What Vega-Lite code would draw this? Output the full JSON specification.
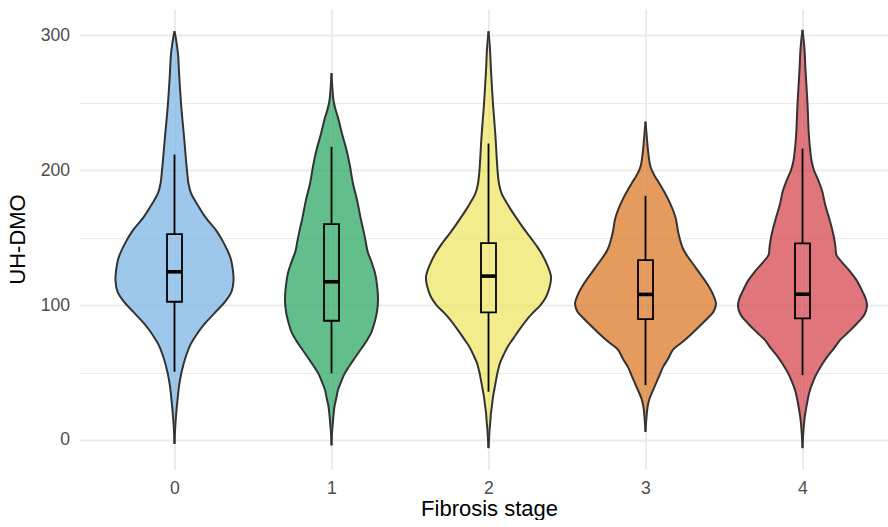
{
  "$schema": "https://vega.github.io/schema/vega-lite/v6.json",
  "background": "white",
  "padding": {"left": 5.5, "top": 9, "right": 0, "bottom": 0},
  "config": {
    "view": {"stroke": null},
    "font": "Liberation Sans",
    "area": {"interpolate": "catmull-rom"},
    "line": {"interpolate": "catmull-rom"},
    "axisY": {"ticks": false, "domain": false, "gridColor": "#EBEBEB", "labelFont": "Liberation Sans", "labelFontSize": 17.6, "labelColor": "#4D4D4D", "labelPadding": 10, "titleFont": "Liberation Sans", "titleFontSize": 22, "titleFontWeight": "normal", "titleColor": "black", "titlePadding": 11},
    "axisX": {"ticks": false, "domain": false, "labels": false, "grid": false, "gridColor": "#EBEBEB", "gridWidth": 2, "labelFont": "Liberation Sans", "labelFontSize": 17.6, "labelColor": "#4D4D4D", "labelPadding": 10}
  },
  "title": {"text": "Fibrosis stage", "orient": "bottom", "anchor": "middle", "dx": 42.75, "offset": 2, "font": "Liberation Sans", "fontSize": 22, "fontWeight": "normal", "color": "black"},
  "data": {"values": [
    {"kind":"v","stage":0,"value":-3,"density":0},
    {"kind":"v","stage":0,"value":10,"density":0.011},
    {"kind":"v","stage":0,"value":20,"density":0.025},
    {"kind":"v","stage":0,"value":30,"density":0.043},
    {"kind":"v","stage":0,"value":40,"density":0.064},
    {"kind":"v","stage":0,"value":50,"density":0.099},
    {"kind":"v","stage":0,"value":60,"density":0.149},
    {"kind":"v","stage":0,"value":70,"density":0.220},
    {"kind":"v","stage":0,"value":78,"density":0.312},
    {"kind":"v","stage":0,"value":86,"density":0.426},
    {"kind":"v","stage":0,"value":94,"density":0.567},
    {"kind":"v","stage":0,"value":102,"density":0.709},
    {"kind":"v","stage":0,"value":110,"density":0.809},
    {"kind":"v","stage":0,"value":118,"density":0.837},
    {"kind":"v","stage":0,"value":125,"density":0.830},
    {"kind":"v","stage":0,"value":135,"density":0.794},
    {"kind":"v","stage":0,"value":145,"density":0.709},
    {"kind":"v","stage":0,"value":155,"density":0.596},
    {"kind":"v","stage":0,"value":165,"density":0.440},
    {"kind":"v","stage":0,"value":175,"density":0.319},
    {"kind":"v","stage":0,"value":183,"density":0.234},
    {"kind":"v","stage":0,"value":190,"density":0.199},
    {"kind":"v","stage":0,"value":200,"density":0.177},
    {"kind":"v","stage":0,"value":212,"density":0.156},
    {"kind":"v","stage":0,"value":225,"density":0.135},
    {"kind":"v","stage":0,"value":237,"density":0.113},
    {"kind":"v","stage":0,"value":250,"density":0.092},
    {"kind":"v","stage":0,"value":270,"density":0.067},
    {"kind":"v","stage":0,"value":286,"density":0.050},
    {"kind":"v","stage":0,"value":295,"density":0.028},
    {"kind":"v","stage":0,"value":303,"density":0},

    {"kind":"v","stage":1,"value":-4,"density":0},
    {"kind":"v","stage":1,"value":5,"density":0.007},
    {"kind":"v","stage":1,"value":12,"density":0.018},
    {"kind":"v","stage":1,"value":18,"density":0.028},
    {"kind":"v","stage":1,"value":25,"density":0.043},
    {"kind":"v","stage":1,"value":30,"density":0.064},
    {"kind":"v","stage":1,"value":37,"density":0.092},
    {"kind":"v","stage":1,"value":43,"density":0.135},
    {"kind":"v","stage":1,"value":49,"density":0.184},
    {"kind":"v","stage":1,"value":55,"density":0.255},
    {"kind":"v","stage":1,"value":61,"density":0.333},
    {"kind":"v","stage":1,"value":68,"density":0.426},
    {"kind":"v","stage":1,"value":74,"density":0.504},
    {"kind":"v","stage":1,"value":80,"density":0.567},
    {"kind":"v","stage":1,"value":87,"density":0.610},
    {"kind":"v","stage":1,"value":95,"density":0.645},
    {"kind":"v","stage":1,"value":104,"density":0.660},
    {"kind":"v","stage":1,"value":115,"density":0.645},
    {"kind":"v","stage":1,"value":124,"density":0.617},
    {"kind":"v","stage":1,"value":132,"density":0.567},
    {"kind":"v","stage":1,"value":140,"density":0.511},
    {"kind":"v","stage":1,"value":148,"density":0.482},
    {"kind":"v","stage":1,"value":155,"density":0.454},
    {"kind":"v","stage":1,"value":165,"density":0.411},
    {"kind":"v","stage":1,"value":178,"density":0.362},
    {"kind":"v","stage":1,"value":190,"density":0.305},
    {"kind":"v","stage":1,"value":203,"density":0.262},
    {"kind":"v","stage":1,"value":215,"density":0.213},
    {"kind":"v","stage":1,"value":227,"density":0.149},
    {"kind":"v","stage":1,"value":239,"density":0.092},
    {"kind":"v","stage":1,"value":245,"density":0.057},
    {"kind":"v","stage":1,"value":252,"density":0.028},
    {"kind":"v","stage":1,"value":262,"density":0.011},
    {"kind":"v","stage":1,"value":272,"density":0},

    {"kind":"v","stage":2,"value":-6,"density":0},
    {"kind":"v","stage":2,"value":0,"density":0.007},
    {"kind":"v","stage":2,"value":7,"density":0.014},
    {"kind":"v","stage":2,"value":13,"density":0.025},
    {"kind":"v","stage":2,"value":20,"density":0.035},
    {"kind":"v","stage":2,"value":26,"density":0.050},
    {"kind":"v","stage":2,"value":32,"density":0.064},
    {"kind":"v","stage":2,"value":38,"density":0.085},
    {"kind":"v","stage":2,"value":44,"density":0.106},
    {"kind":"v","stage":2,"value":50,"density":0.128},
    {"kind":"v","stage":2,"value":57,"density":0.163},
    {"kind":"v","stage":2,"value":63,"density":0.213},
    {"kind":"v","stage":2,"value":69,"density":0.270},
    {"kind":"v","stage":2,"value":75,"density":0.348},
    {"kind":"v","stage":2,"value":81.5,"density":0.433},
    {"kind":"v","stage":2,"value":88,"density":0.525},
    {"kind":"v","stage":2,"value":94,"density":0.624},
    {"kind":"v","stage":2,"value":100,"density":0.738},
    {"kind":"v","stage":2,"value":106,"density":0.816},
    {"kind":"v","stage":2,"value":113,"density":0.865},
    {"kind":"v","stage":2,"value":121,"density":0.887},
    {"kind":"v","stage":2,"value":131,"density":0.823},
    {"kind":"v","stage":2,"value":137,"density":0.766},
    {"kind":"v","stage":2,"value":143,"density":0.695},
    {"kind":"v","stage":2,"value":150,"density":0.596},
    {"kind":"v","stage":2,"value":158,"density":0.482},
    {"kind":"v","stage":2,"value":165,"density":0.390},
    {"kind":"v","stage":2,"value":173,"density":0.291},
    {"kind":"v","stage":2,"value":183,"density":0.184},
    {"kind":"v","stage":2,"value":190,"density":0.149},
    {"kind":"v","stage":2,"value":200,"density":0.128},
    {"kind":"v","stage":2,"value":225,"density":0.099},
    {"kind":"v","stage":2,"value":249,"density":0.064},
    {"kind":"v","stage":2,"value":274,"density":0.035},
    {"kind":"v","stage":2,"value":290,"density":0.021},
    {"kind":"v","stage":2,"value":303,"density":0},

    {"kind":"v","stage":3,"value":6,"density":0},
    {"kind":"v","stage":3,"value":17,"density":0.014},
    {"kind":"v","stage":3,"value":24,"density":0.028},
    {"kind":"v","stage":3,"value":30,"density":0.053},
    {"kind":"v","stage":3,"value":36,"density":0.099},
    {"kind":"v","stage":3,"value":42,"density":0.149},
    {"kind":"v","stage":3,"value":48,"density":0.199},
    {"kind":"v","stage":3,"value":54,"density":0.248},
    {"kind":"v","stage":3,"value":60,"density":0.319},
    {"kind":"v","stage":3,"value":67,"density":0.390},
    {"kind":"v","stage":3,"value":73,"density":0.532},
    {"kind":"v","stage":3,"value":79,"density":0.660},
    {"kind":"v","stage":3,"value":85,"density":0.780},
    {"kind":"v","stage":3,"value":91,"density":0.894},
    {"kind":"v","stage":3,"value":95,"density":0.965},
    {"kind":"v","stage":3,"value":101,"density":1.0},
    {"kind":"v","stage":3,"value":108,"density":0.957},
    {"kind":"v","stage":3,"value":116,"density":0.872},
    {"kind":"v","stage":3,"value":128,"density":0.709},
    {"kind":"v","stage":3,"value":141,"density":0.539},
    {"kind":"v","stage":3,"value":153,"density":0.468},
    {"kind":"v","stage":3,"value":165,"density":0.426},
    {"kind":"v","stage":3,"value":178,"density":0.326},
    {"kind":"v","stage":3,"value":190,"density":0.199},
    {"kind":"v","stage":3,"value":196,"density":0.128},
    {"kind":"v","stage":3,"value":202.5,"density":0.071},
    {"kind":"v","stage":3,"value":215,"density":0.035},
    {"kind":"v","stage":3,"value":225,"density":0.018},
    {"kind":"v","stage":3,"value":236,"density":0},

    {"kind":"v","stage":4,"value":-6,"density":0},
    {"kind":"v","stage":4,"value":5,"density":0.011},
    {"kind":"v","stage":4,"value":12,"density":0.021},
    {"kind":"v","stage":4,"value":18,"density":0.035},
    {"kind":"v","stage":4,"value":25,"density":0.057},
    {"kind":"v","stage":4,"value":31,"density":0.078},
    {"kind":"v","stage":4,"value":37,"density":0.106},
    {"kind":"v","stage":4,"value":43,"density":0.149},
    {"kind":"v","stage":4,"value":49,"density":0.199},
    {"kind":"v","stage":4,"value":56,"density":0.277},
    {"kind":"v","stage":4,"value":62,"density":0.355},
    {"kind":"v","stage":4,"value":68,"density":0.447},
    {"kind":"v","stage":4,"value":74,"density":0.532},
    {"kind":"v","stage":4,"value":80,"density":0.652},
    {"kind":"v","stage":4,"value":86,"density":0.766},
    {"kind":"v","stage":4,"value":93,"density":0.879},
    {"kind":"v","stage":4,"value":99,"density":0.915},
    {"kind":"v","stage":4,"value":104,"density":0.901},
    {"kind":"v","stage":4,"value":110,"density":0.851},
    {"kind":"v","stage":4,"value":118.5,"density":0.766},
    {"kind":"v","stage":4,"value":125,"density":0.674},
    {"kind":"v","stage":4,"value":131,"density":0.574},
    {"kind":"v","stage":4,"value":137,"density":0.482},
    {"kind":"v","stage":4,"value":143,"density":0.468},
    {"kind":"v","stage":4,"value":150,"density":0.447},
    {"kind":"v","stage":4,"value":158,"density":0.411},
    {"kind":"v","stage":4,"value":166,"density":0.369},
    {"kind":"v","stage":4,"value":175,"density":0.319},
    {"kind":"v","stage":4,"value":185,"density":0.277},
    {"kind":"v","stage":4,"value":193,"density":0.220},
    {"kind":"v","stage":4,"value":200,"density":0.163},
    {"kind":"v","stage":4,"value":207,"density":0.128},
    {"kind":"v","stage":4,"value":225,"density":0.092},
    {"kind":"v","stage":4,"value":249,"density":0.071},
    {"kind":"v","stage":4,"value":274,"density":0.043},
    {"kind":"v","stage":4,"value":290,"density":0.028},
    {"kind":"v","stage":4,"value":304,"density":0},

    {"kind":"b","stage":0,"wlo":50.6,"q1":102.5,"med":124.7,"q3":152.6,"whi":211.6},
    {"kind":"b","stage":1,"wlo":49.4,"q1":88.4,"med":117.3,"q3":160,"whi":217.3},
    {"kind":"b","stage":2,"wlo":35.8,"q1":94.6,"med":121.5,"q3":146,"whi":219.8},
    {"kind":"b","stage":3,"wlo":40.7,"q1":89.6,"med":107.9,"q3":133.3,"whi":181},
    {"kind":"b","stage":4,"wlo":48.1,"q1":90.1,"med":108.1,"q3":145.7,"whi":216}
  ]},
  "spacing": 0,
  "hconcat": [
    {
      "width": 174, "height": 460,
      "transform": [{"filter": "datum.stage === 0"}],
      "resolve": {"scale": {"x": "independent"}, "axis": {"x": "independent"}},
      "layer": [
        {
          "transform": [{"filter": "datum.kind === 'v'"}],
          "layer": [
            {
              "mark": {"type": "area", "orient": "horizontal", "fillOpacity": 0.7},
              "encoding": {
                "y": {"field": "value", "type": "quantitative", "title": "UH-DMO",
                  "scale": {"domain": [-21.5, 319.5], "nice": false, "zero": false},
                  "axis": {"values": [0, 50, 100, 150, 200, 250, 300], "labelExpr": "datum.value % 100 === 0 ? datum.label : ''",
                    "gridWidth": {"condition": {"test": "datum.value % 100 === 0", "value": 2}, "value": 1.2}}},
                "x": {"field": "density", "type": "quantitative", "stack": null, "title": null,
                  "scale": {"domain": [-1.12057, 1.34752], "reverse": true, "nice": false, "zero": false},
                  "axis": {"orient": "top", "grid": false, "labels": false}},
                "x2": {"datum": 0},
                "color": {"field": "stage", "type": "nominal", "legend": null,
                  "scale": {"domain": [0, 1, 2, 3, 4], "range": ["#73B0E2", "#20A258", "#EEE45B", "#DB701A", "#D33A44"]}}
              }
            },
            {
              "mark": {"type": "line", "color": "#333333", "strokeWidth": 2},
              "encoding": {
                "y": {"field": "value", "type": "quantitative", "title": "UH-DMO"},
                "x": {"field": "density", "type": "quantitative", "title": null},
                "order": {"field": "value", "type": "quantitative"}
              }
            }
          ]
        },
        {
          "layer": [
            {
              "transform": [{"filter": "datum.kind === 'v'"}],
              "mark": {"type": "area", "orient": "horizontal", "fillOpacity": 0.7},
              "encoding": {
                "y": {"field": "value", "type": "quantitative", "title": "UH-DMO"},
                "x": {"field": "density", "type": "quantitative", "stack": null, "title": null,
                  "scale": {"domain": [-1.34752, 1.12057], "nice": false, "zero": false},
                  "axis": {"orient": "bottom", "values": [0], "grid": true, "labels": true, "labelExpr": "'0'"}},
                "x2": {"datum": 0},
                "color": {"field": "stage", "type": "nominal", "legend": null}
              }
            },
            {
              "transform": [{"filter": "datum.kind === 'v'"}],
              "mark": {"type": "line", "color": "#333333", "strokeWidth": 2},
              "encoding": {
                "y": {"field": "value", "type": "quantitative", "title": "UH-DMO"},
                "x": {"field": "density", "type": "quantitative", "title": null},
                "order": {"field": "value", "type": "quantitative"}
              }
            },
            {
              "transform": [{"filter": "datum.kind === 'b'"}],
              "mark": {"type": "rule", "color": "black", "strokeWidth": 1.8},
              "encoding": {"x": {"datum": 0}, "y": {"field": "wlo", "type": "quantitative", "title": "UH-DMO"}, "y2": {"field": "q1"}}
            },
            {
              "transform": [{"filter": "datum.kind === 'b'"}],
              "mark": {"type": "rule", "color": "black", "strokeWidth": 1.8},
              "encoding": {"x": {"datum": 0}, "y": {"field": "q3", "type": "quantitative", "title": "UH-DMO"}, "y2": {"field": "whi"}}
            },
            {
              "transform": [{"filter": "datum.kind === 'b'"}],
              "mark": {"type": "rect", "filled": false, "stroke": "black", "strokeWidth": 1.8},
              "encoding": {"x": {"datum": -0.10638}, "x2": {"datum": 0.10638}, "y": {"field": "q1", "type": "quantitative", "title": "UH-DMO"}, "y2": {"field": "q3"}}
            },
            {
              "transform": [{"filter": "datum.kind === 'b'"}],
              "mark": {"type": "rule", "color": "black", "strokeWidth": 3.6},
              "encoding": {"x": {"datum": -0.10638}, "x2": {"datum": 0.10638}, "y": {"field": "med", "type": "quantitative", "title": "UH-DMO"}}
            }
          ]
        }
      ]
    },
    {
      "width": 157, "height": 460,
      "transform": [{"filter": "datum.stage === 1"}],
      "resolve": {"scale": {"x": "independent"}, "axis": {"x": "independent"}},
      "layer": [
        {
          "transform": [{"filter": "datum.kind === 'v'"}],
          "layer": [
            {
              "mark": {"type": "area", "orient": "horizontal", "fillOpacity": 0.7},
              "encoding": {
                "y": {"field": "value", "type": "quantitative", "title": null,
                  "scale": {"domain": [-21.5, 319.5], "nice": false, "zero": false},
                  "axis": {"values": [0, 50, 100, 150, 200, 250, 300], "labels": false,
                    "gridWidth": {"condition": {"test": "datum.value % 100 === 0", "value": 2}, "value": 1.2}}},
                "x": {"field": "density", "type": "quantitative", "stack": null, "title": null,
                  "scale": {"domain": [-1.12057, 1.10638], "reverse": true, "nice": false, "zero": false},
                  "axis": {"orient": "top", "grid": false, "labels": false}},
                "x2": {"datum": 0},
                "color": {"field": "stage", "type": "nominal", "legend": null}
              }
            },
            {
              "mark": {"type": "line", "color": "#333333", "strokeWidth": 2},
              "encoding": {
                "y": {"field": "value", "type": "quantitative", "title": null},
                "x": {"field": "density", "type": "quantitative", "title": null},
                "order": {"field": "value", "type": "quantitative"}
              }
            }
          ]
        },
        {
          "layer": [
            {
              "transform": [{"filter": "datum.kind === 'v'"}],
              "mark": {"type": "area", "orient": "horizontal", "fillOpacity": 0.7},
              "encoding": {
                "y": {"field": "value", "type": "quantitative", "title": null},
                "x": {"field": "density", "type": "quantitative", "stack": null, "title": null,
                  "scale": {"domain": [-1.10638, 1.12057], "nice": false, "zero": false},
                  "axis": {"orient": "bottom", "values": [0], "grid": true, "labels": true, "labelExpr": "'1'"}},
                "x2": {"datum": 0},
                "color": {"field": "stage", "type": "nominal", "legend": null}
              }
            },
            {
              "transform": [{"filter": "datum.kind === 'v'"}],
              "mark": {"type": "line", "color": "#333333", "strokeWidth": 2},
              "encoding": {
                "y": {"field": "value", "type": "quantitative", "title": null},
                "x": {"field": "density", "type": "quantitative", "title": null},
                "order": {"field": "value", "type": "quantitative"}
              }
            },
            {
              "transform": [{"filter": "datum.kind === 'b'"}],
              "mark": {"type": "rule", "color": "black", "strokeWidth": 1.8},
              "encoding": {"x": {"datum": 0}, "y": {"field": "wlo", "type": "quantitative", "title": null}, "y2": {"field": "q1"}}
            },
            {
              "transform": [{"filter": "datum.kind === 'b'"}],
              "mark": {"type": "rule", "color": "black", "strokeWidth": 1.8},
              "encoding": {"x": {"datum": 0}, "y": {"field": "q3", "type": "quantitative", "title": null}, "y2": {"field": "whi"}}
            },
            {
              "transform": [{"filter": "datum.kind === 'b'"}],
              "mark": {"type": "rect", "filled": false, "stroke": "black", "strokeWidth": 1.8},
              "encoding": {"x": {"datum": -0.10638}, "x2": {"datum": 0.10638}, "y": {"field": "q1", "type": "quantitative", "title": null}, "y2": {"field": "q3"}}
            },
            {
              "transform": [{"filter": "datum.kind === 'b'"}],
              "mark": {"type": "rule", "color": "black", "strokeWidth": 3.6},
              "encoding": {"x": {"datum": -0.10638}, "x2": {"datum": 0.10638}, "y": {"field": "med", "type": "quantitative", "title": null}}
            }
          ]
        }
      ]
    },
    {
      "width": 157, "height": 460,
      "transform": [{"filter": "datum.stage === 2"}],
      "resolve": {"scale": {"x": "independent"}, "axis": {"x": "independent"}},
      "layer": [
        {
          "transform": [{"filter": "datum.kind === 'v'"}],
          "layer": [
            {
              "mark": {"type": "area", "orient": "horizontal", "fillOpacity": 0.7},
              "encoding": {
                "y": {"field": "value", "type": "quantitative", "title": null,
                  "scale": {"domain": [-21.5, 319.5], "nice": false, "zero": false},
                  "axis": {"values": [0, 50, 100, 150, 200, 250, 300], "labels": false,
                    "gridWidth": {"condition": {"test": "datum.value % 100 === 0", "value": 2}, "value": 1.2}}},
                "x": {"field": "density", "type": "quantitative", "stack": null, "title": null,
                  "scale": {"domain": [-1.12057, 1.10638], "reverse": true, "nice": false, "zero": false},
                  "axis": {"orient": "top", "grid": false, "labels": false}},
                "x2": {"datum": 0},
                "color": {"field": "stage", "type": "nominal", "legend": null}
              }
            },
            {
              "mark": {"type": "line", "color": "#333333", "strokeWidth": 2},
              "encoding": {
                "y": {"field": "value", "type": "quantitative", "title": null},
                "x": {"field": "density", "type": "quantitative", "title": null},
                "order": {"field": "value", "type": "quantitative"}
              }
            }
          ]
        },
        {
          "layer": [
            {
              "transform": [{"filter": "datum.kind === 'v'"}],
              "mark": {"type": "area", "orient": "horizontal", "fillOpacity": 0.7},
              "encoding": {
                "y": {"field": "value", "type": "quantitative", "title": null},
                "x": {"field": "density", "type": "quantitative", "stack": null, "title": null,
                  "scale": {"domain": [-1.10638, 1.12057], "nice": false, "zero": false},
                  "axis": {"orient": "bottom", "values": [0], "grid": true, "labels": true, "labelExpr": "'2'"}},
                "x2": {"datum": 0},
                "color": {"field": "stage", "type": "nominal", "legend": null}
              }
            },
            {
              "transform": [{"filter": "datum.kind === 'v'"}],
              "mark": {"type": "line", "color": "#333333", "strokeWidth": 2},
              "encoding": {
                "y": {"field": "value", "type": "quantitative", "title": null},
                "x": {"field": "density", "type": "quantitative", "title": null},
                "order": {"field": "value", "type": "quantitative"}
              }
            },
            {
              "transform": [{"filter": "datum.kind === 'b'"}],
              "mark": {"type": "rule", "color": "black", "strokeWidth": 1.8},
              "encoding": {"x": {"datum": 0}, "y": {"field": "wlo", "type": "quantitative", "title": null}, "y2": {"field": "q1"}}
            },
            {
              "transform": [{"filter": "datum.kind === 'b'"}],
              "mark": {"type": "rule", "color": "black", "strokeWidth": 1.8},
              "encoding": {"x": {"datum": 0}, "y": {"field": "q3", "type": "quantitative", "title": null}, "y2": {"field": "whi"}}
            },
            {
              "transform": [{"filter": "datum.kind === 'b'"}],
              "mark": {"type": "rect", "filled": false, "stroke": "black", "strokeWidth": 1.8},
              "encoding": {"x": {"datum": -0.10638}, "x2": {"datum": 0.10638}, "y": {"field": "q1", "type": "quantitative", "title": null}, "y2": {"field": "q3"}}
            },
            {
              "transform": [{"filter": "datum.kind === 'b'"}],
              "mark": {"type": "rule", "color": "black", "strokeWidth": 3.6},
              "encoding": {"x": {"datum": -0.10638}, "x2": {"datum": 0.10638}, "y": {"field": "med", "type": "quantitative", "title": null}}
            }
          ]
        }
      ]
    },
    {
      "width": 157, "height": 460,
      "transform": [{"filter": "datum.stage === 3"}],
      "resolve": {"scale": {"x": "independent"}, "axis": {"x": "independent"}},
      "layer": [
        {
          "transform": [{"filter": "datum.kind === 'v'"}],
          "layer": [
            {
              "mark": {"type": "area", "orient": "horizontal", "fillOpacity": 0.7},
              "encoding": {
                "y": {"field": "value", "type": "quantitative", "title": null,
                  "scale": {"domain": [-21.5, 319.5], "nice": false, "zero": false},
                  "axis": {"values": [0, 50, 100, 150, 200, 250, 300], "labels": false,
                    "gridWidth": {"condition": {"test": "datum.value % 100 === 0", "value": 2}, "value": 1.2}}},
                "x": {"field": "density", "type": "quantitative", "stack": null, "title": null,
                  "scale": {"domain": [-1.12057, 1.10638], "reverse": true, "nice": false, "zero": false},
                  "axis": {"orient": "top", "grid": false, "labels": false}},
                "x2": {"datum": 0},
                "color": {"field": "stage", "type": "nominal", "legend": null}
              }
            },
            {
              "mark": {"type": "line", "color": "#333333", "strokeWidth": 2},
              "encoding": {
                "y": {"field": "value", "type": "quantitative", "title": null},
                "x": {"field": "density", "type": "quantitative", "title": null},
                "order": {"field": "value", "type": "quantitative"}
              }
            }
          ]
        },
        {
          "layer": [
            {
              "transform": [{"filter": "datum.kind === 'v'"}],
              "mark": {"type": "area", "orient": "horizontal", "fillOpacity": 0.7},
              "encoding": {
                "y": {"field": "value", "type": "quantitative", "title": null},
                "x": {"field": "density", "type": "quantitative", "stack": null, "title": null,
                  "scale": {"domain": [-1.10638, 1.12057], "nice": false, "zero": false},
                  "axis": {"orient": "bottom", "values": [0], "grid": true, "labels": true, "labelExpr": "'3'"}},
                "x2": {"datum": 0},
                "color": {"field": "stage", "type": "nominal", "legend": null}
              }
            },
            {
              "transform": [{"filter": "datum.kind === 'v'"}],
              "mark": {"type": "line", "color": "#333333", "strokeWidth": 2},
              "encoding": {
                "y": {"field": "value", "type": "quantitative", "title": null},
                "x": {"field": "density", "type": "quantitative", "title": null},
                "order": {"field": "value", "type": "quantitative"}
              }
            },
            {
              "transform": [{"filter": "datum.kind === 'b'"}],
              "mark": {"type": "rule", "color": "black", "strokeWidth": 1.8},
              "encoding": {"x": {"datum": 0}, "y": {"field": "wlo", "type": "quantitative", "title": null}, "y2": {"field": "q1"}}
            },
            {
              "transform": [{"filter": "datum.kind === 'b'"}],
              "mark": {"type": "rule", "color": "black", "strokeWidth": 1.8},
              "encoding": {"x": {"datum": 0}, "y": {"field": "q3", "type": "quantitative", "title": null}, "y2": {"field": "whi"}}
            },
            {
              "transform": [{"filter": "datum.kind === 'b'"}],
              "mark": {"type": "rect", "filled": false, "stroke": "black", "strokeWidth": 1.8},
              "encoding": {"x": {"datum": -0.10638}, "x2": {"datum": 0.10638}, "y": {"field": "q1", "type": "quantitative", "title": null}, "y2": {"field": "q3"}}
            },
            {
              "transform": [{"filter": "datum.kind === 'b'"}],
              "mark": {"type": "rule", "color": "black", "strokeWidth": 3.6},
              "encoding": {"x": {"datum": -0.10638}, "x2": {"datum": 0.10638}, "y": {"field": "med", "type": "quantitative", "title": null}}
            }
          ]
        }
      ]
    },
    {
      "width": 163, "height": 460,
      "transform": [{"filter": "datum.stage === 4"}],
      "resolve": {"scale": {"x": "independent"}, "axis": {"x": "independent"}},
      "layer": [
        {
          "transform": [{"filter": "datum.kind === 'v'"}],
          "layer": [
            {
              "mark": {"type": "area", "orient": "horizontal", "fillOpacity": 0.7},
              "encoding": {
                "y": {"field": "value", "type": "quantitative", "title": null,
                  "scale": {"domain": [-21.5, 319.5], "nice": false, "zero": false},
                  "axis": {"values": [0, 50, 100, 150, 200, 250, 300], "labels": false,
                    "gridWidth": {"condition": {"test": "datum.value % 100 === 0", "value": 2}, "value": 1.2}}},
                "x": {"field": "density", "type": "quantitative", "stack": null, "title": null,
                  "scale": {"domain": [-1.20567, 1.10638], "reverse": true, "nice": false, "zero": false},
                  "axis": {"orient": "top", "grid": false, "labels": false}},
                "x2": {"datum": 0},
                "color": {"field": "stage", "type": "nominal", "legend": null}
              }
            },
            {
              "mark": {"type": "line", "color": "#333333", "strokeWidth": 2},
              "encoding": {
                "y": {"field": "value", "type": "quantitative", "title": null},
                "x": {"field": "density", "type": "quantitative", "title": null},
                "order": {"field": "value", "type": "quantitative"}
              }
            }
          ]
        },
        {
          "layer": [
            {
              "transform": [{"filter": "datum.kind === 'v'"}],
              "mark": {"type": "area", "orient": "horizontal", "fillOpacity": 0.7},
              "encoding": {
                "y": {"field": "value", "type": "quantitative", "title": null},
                "x": {"field": "density", "type": "quantitative", "stack": null, "title": null,
                  "scale": {"domain": [-1.10638, 1.20567], "nice": false, "zero": false},
                  "axis": {"orient": "bottom", "values": [0], "grid": true, "labels": true, "labelExpr": "'4'"}},
                "x2": {"datum": 0},
                "color": {"field": "stage", "type": "nominal", "legend": null}
              }
            },
            {
              "transform": [{"filter": "datum.kind === 'v'"}],
              "mark": {"type": "line", "color": "#333333", "strokeWidth": 2},
              "encoding": {
                "y": {"field": "value", "type": "quantitative", "title": null},
                "x": {"field": "density", "type": "quantitative", "title": null},
                "order": {"field": "value", "type": "quantitative"}
              }
            },
            {
              "transform": [{"filter": "datum.kind === 'b'"}],
              "mark": {"type": "rule", "color": "black", "strokeWidth": 1.8},
              "encoding": {"x": {"datum": 0}, "y": {"field": "wlo", "type": "quantitative", "title": null}, "y2": {"field": "q1"}}
            },
            {
              "transform": [{"filter": "datum.kind === 'b'"}],
              "mark": {"type": "rule", "color": "black", "strokeWidth": 1.8},
              "encoding": {"x": {"datum": 0}, "y": {"field": "q3", "type": "quantitative", "title": null}, "y2": {"field": "whi"}}
            },
            {
              "transform": [{"filter": "datum.kind === 'b'"}],
              "mark": {"type": "rect", "filled": false, "stroke": "black", "strokeWidth": 1.8},
              "encoding": {"x": {"datum": -0.10638}, "x2": {"datum": 0.10638}, "y": {"field": "q1", "type": "quantitative", "title": null}, "y2": {"field": "q3"}}
            },
            {
              "transform": [{"filter": "datum.kind === 'b'"}],
              "mark": {"type": "rule", "color": "black", "strokeWidth": 3.6},
              "encoding": {"x": {"datum": -0.10638}, "x2": {"datum": 0.10638}, "y": {"field": "med", "type": "quantitative", "title": null}}
            }
          ]
        }
      ]
    }
  ]
}
